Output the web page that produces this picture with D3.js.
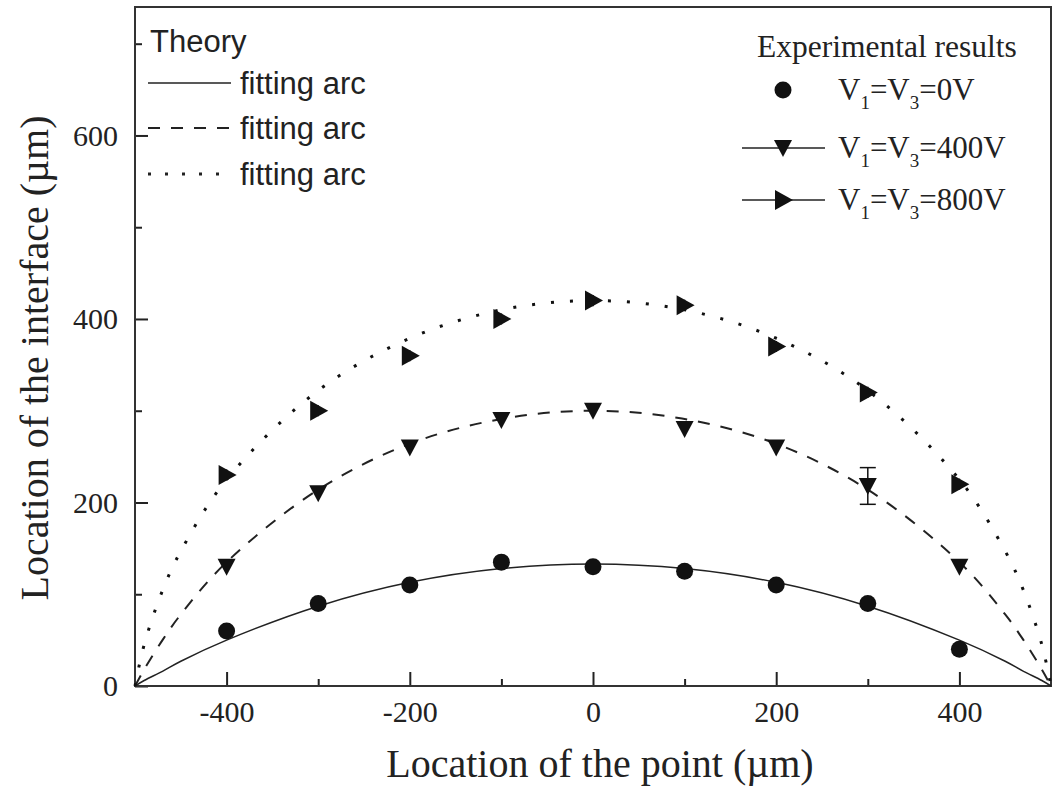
<!DOCTYPE html>
<meta charset="utf-8">
<style>
    html, body {
        margin: 0;
        padding: 0;
        background: #fff;
    }
    svg {
        display: block;
    }
    .axis path {
        display: none;
    }
    .axis line {
        stroke: #222;
        stroke-width: 2px;
    }
    .axis text {
        font: 30px "Liberation Serif", "Times New Roman", serif;
        fill: #222;
    }
    .serif {
        font-family: "Liberation Serif", "Times New Roman", serif;
        fill: #222;
    }
    .sans {
        font-family: "Liberation Sans", Arial, sans-serif;
        fill: #222;
    }
</style>
<body>
<div id="chart"></div>
<script src="https://cdn.jsdelivr.net/npm/d3@7"></script>
<script>
// measured points
var xPoints = [-400, -300, -200, -100, 0, 100, 200, 300, 400];
var v0 = [60, 90, 110, 135, 130, 125, 110, 90, 40];
var v400 = [130, 210, 260, 290, 300, 280, 260, 218, 130];
var v800 = [230, 300, 360, 400, 420, 415, 370, 320, 220];
var err400 = [6, 6, 6, 6, 6, 6, 6, 20, 6];
var err800 = [6, 6, 6, 6, 6, 6, 6, 6, 6];

// fitting arcs
var arcX = [-500, -490, -470, -450, -400, -300, -200, -100, 0, 100, 200, 300, 400, 450, 470, 490, 500];
var arcSolid = [0, 6, 16, 27, 50, 87, 113, 128, 133, 128, 113, 87, 50, 27, 16, 6, 0];
var arcDashed = [0, 18, 50, 78, 135, 214, 264, 291, 300, 291, 264, 214, 135, 78, 50, 18, 0];
var arcDotted = [0, 45, 104, 147, 225, 322, 379, 410, 420, 410, 379, 322, 225, 147, 104, 45, 0];

var xMajor = [-400, -200, 0, 200, 400];
var xMinor = [-300, -100, 100, 300];
var yMajor = [0, 200, 400, 600];
var yMinor = [100, 300, 500, 700];

var W = 1052, H = 795;
var margin = {top: 7, right: 1, bottom: 109, left: 135};
var width = W - margin.left - margin.right,
    height = H - margin.top - margin.bottom;

var x = d3.scaleLinear().domain([-500, 500]).range([0, width]);
var y = d3.scaleLinear().domain([0, 740]).range([height, 0]);

var svg = d3.select("#chart").append("svg")
    .attr("width", W)
    .attr("height", H);

var g = svg.append("g")
    .attr("transform", "translate(" + margin.left + "," + margin.top + ")");

// plain hyphen for negatives, like the original
var plain = function(d) { return String(d); };

// axes: ticks point inward
g.append("g")
    .attr("class", "axis")
    .attr("transform", "translate(0," + height + ")")
    .call(d3.axisBottom(x).tickValues(xMajor).tickSize(-14).tickPadding(15).tickFormat(plain));

g.append("g")
    .attr("class", "axis")
    .attr("transform", "translate(0," + height + ")")
    .call(d3.axisBottom(x).tickValues(xMinor).tickSize(-7).tickFormat(""));

g.append("g")
    .attr("class", "axis")
    .call(d3.axisLeft(y).tickValues(yMajor).tickSize(-13).tickPadding(17).tickFormat(plain));

g.append("g")
    .attr("class", "axis")
    .call(d3.axisLeft(y).tickValues(yMinor).tickSize(-7).tickFormat(""));

// frame
g.append("rect")
    .attr("width", width)
    .attr("height", height)
    .attr("fill", "none")
    .attr("stroke", "#333")
    .attr("stroke-width", 2);

// fitting arcs
var line = d3.line()
    .x(function(d) { return x(d[0]); })
    .y(function(d) { return y(d[1]); })
    .curve(d3.curveCatmullRom.alpha(0.5));

function zipArc(vals) {
    return arcX.map(function(v, i) { return [v, vals[i]]; });
}

g.append("path")
    .attr("d", line(zipArc(arcSolid)))
    .attr("fill", "none")
    .attr("stroke", "#222")
    .attr("stroke-width", 1.5);

g.append("path")
    .attr("d", line(zipArc(arcDashed)))
    .attr("fill", "none")
    .attr("stroke", "#222")
    .attr("stroke-width", 2)
    .attr("stroke-dasharray", "12,11");

g.append("path")
    .attr("d", line(zipArc(arcDotted)))
    .attr("fill", "none")
    .attr("stroke", "#111")
    .attr("stroke-width", 3)
    .attr("stroke-dasharray", "3,16");

// error bars
function errorBars(vals, errs) {
    var eb = g.append("g").attr("stroke", "#111").attr("stroke-width", 1.5);
    xPoints.forEach(function(xv, i) {
        var y1 = y(vals[i] + errs[i]), y2 = y(vals[i] - errs[i]);
        eb.append("line").attr("x1", x(xv)).attr("x2", x(xv)).attr("y1", y1).attr("y2", y2);
        if (errs[i] > 10) {
            eb.append("line").attr("x1", x(xv) - 8).attr("x2", x(xv) + 8).attr("y1", y1).attr("y2", y1);
            eb.append("line").attr("x1", x(xv) - 8).attr("x2", x(xv) + 8).attr("y1", y2).attr("y2", y2);
        }
    });
}
errorBars(v400, err400);
errorBars(v800, err800);

// marker shapes
var triDown = "M-9,-8L9,-8L0,9Z";
var triRight = "M-8,-10L10,0L-8,10Z";

g.selectAll(".dot0")
    .data(xPoints)
    .enter().append("circle")
    .attr("cx", function(d) { return x(d); })
    .attr("cy", function(d, i) { return y(v0[i]); })
    .attr("r", 8.5)
    .attr("fill", "#111");

g.selectAll(".dot400")
    .data(xPoints)
    .enter().append("path")
    .attr("d", triDown)
    .attr("transform", function(d, i) { return "translate(" + x(d) + "," + y(v400[i]) + ")"; })
    .attr("fill", "#111");

g.selectAll(".dot800")
    .data(xPoints)
    .enter().append("path")
    .attr("d", triRight)
    .attr("transform", function(d, i) { return "translate(" + x(d) + "," + y(v800[i]) + ")"; })
    .attr("fill", "#111");

// axis titles
svg.append("text")
    .attr("class", "serif")
    .attr("x", margin.left + width / 2 + 7)
    .attr("y", 777)
    .attr("text-anchor", "middle")
    .style("font-size", "40px")
    .text("Location of the point (\u00b5m)");

svg.append("text")
    .attr("class", "serif")
    .attr("transform", "translate(48," + 358 + ") rotate(-90)")
    .attr("text-anchor", "middle")
    .style("font-size", "40px")
    .text("Location of the interface (\u00b5m)");

// left legend: theory
var theory = svg.append("g");
theory.append("text")
    .attr("class", "sans")
    .attr("x", 150).attr("y", 52)
    .style("font-size", "31px")
    .text("Theory");

var legendRows = [
    {y: 83, dash: null, w: 1.5},
    {y: 128, dash: "12,11", w: 2},
    {y: 174, dash: "3,14", w: 3}
];
legendRows.forEach(function(r) {
    theory.append("line")
        .attr("x1", 148).attr("x2", 231)
        .attr("y1", r.y).attr("y2", r.y)
        .attr("stroke", "#222")
        .attr("stroke-width", r.w)
        .attr("stroke-dasharray", r.dash);
    theory.append("text")
        .attr("class", "sans")
        .attr("x", 240).attr("y", r.y + 11)
        .style("font-size", "31px")
        .text("fitting arc");
});

// right legend: experimental results
var exp = svg.append("g");
exp.append("text")
    .attr("class", "serif")
    .attr("x", 757).attr("y", 57)
    .style("font-size", "31.5px")
    .text("Experimental results");

var expRows = [
    {y: 90, volt: "0V", shape: "circle", line: false},
    {y: 148, volt: "400V", shape: triDown, line: true},
    {y: 200, volt: "800V", shape: triRight, line: true}
];
expRows.forEach(function(r) {
    if (r.line) {
        exp.append("line")
            .attr("x1", 742).attr("x2", 825)
            .attr("y1", r.y).attr("y2", r.y)
            .attr("stroke", "#222")
            .attr("stroke-width", 1.5);
    }
    if (r.shape === "circle") {
        exp.append("circle").attr("cx", 783).attr("cy", r.y).attr("r", 8.5).attr("fill", "#111");
    } else {
        exp.append("path").attr("d", r.shape)
            .attr("transform", "translate(783," + r.y + ")")
            .attr("fill", "#111");
    }
    var t = exp.append("text")
        .attr("class", "serif")
        .attr("x", 838).attr("y", r.y + 10)
        .style("font-size", "31px");
    t.append("tspan").text("V");
    t.append("tspan").attr("dy", 9).style("font-size", "19px").text("1");
    t.append("tspan").attr("dy", -9).text("=V");
    t.append("tspan").attr("dy", 9).style("font-size", "19px").text("3");
    t.append("tspan").attr("dy", -9).text("=" + r.volt);
});
</script>
</body>
